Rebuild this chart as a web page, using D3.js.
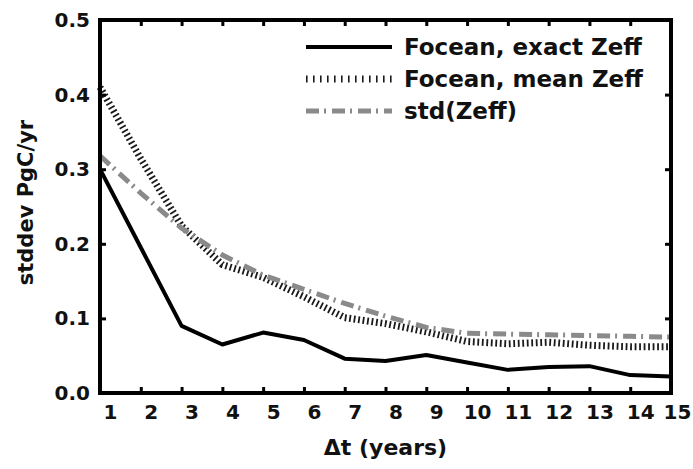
<!DOCTYPE html>
<html>
<head>
<meta charset="utf-8">
<script src="https://cdn.jsdelivr.net/npm/d3@7"></script>
<style>
  body { margin: 0; background: #fff; }
  svg { display: block; }
  text { font-family: "DejaVu Sans", sans-serif; font-weight: bold; fill: #111; }
</style>
</head>
<body>
<div id="viz"></div>
<script>
// data
const dt = [1, 2, 3, 4, 5, 6, 7, 8, 9, 10, 11, 12, 13, 14, 15]
const exactZeff = [0.300, 0.195, 0.090, 0.065, 0.081, 0.071, 0.046, 0.043, 0.051, 0.041, 0.031, 0.035, 0.036, 0.024, 0.022]
const meanZeff  = [0.410, 0.314, 0.224, 0.172, 0.155, 0.129, 0.101, 0.093, 0.082, 0.069, 0.066, 0.068, 0.064, 0.062, 0.062]
const stdZeff   = [0.318, 0.268, 0.221, 0.185, 0.158, 0.139, 0.120, 0.103, 0.088, 0.080, 0.079, 0.078, 0.077, 0.076, 0.075]
const yTicks = [0, 0.1, 0.2, 0.3, 0.4, 0.5]
const legendLabels = ["Focean, exact Zeff", "Focean, mean Zeff", "std(Zeff)"]

const width = 693, height = 469
const margin = { top: 20, right: 22, bottom: 76, left: 100 }

const svg = d3.select("#viz").append("svg")
    .attr("width", width)
    .attr("height", height)

const x = d3.scaleLinear().domain([1, 15]).range([margin.left, width - margin.right])
const y = d3.scaleLinear().domain([0, 0.5]).range([height - margin.bottom, margin.top])

// line styles per series
const series = [
  { values: exactZeff, stroke: "#000", width: 4, dash: null, legendDash: null },
  { values: meanZeff, stroke: "#1a1a1a", width: 7, dash: "1.8,2.7", legendDash: "1.6,5.4" },
  { values: stdZeff, stroke: "#8a8a8a", width: 5, dash: "13,5,2,6", legendDash: "13,5,2,6" }
]

const line = d3.line()
    .x((d, i) => x(dt[i]))
    .y(d => y(d))

series.forEach(s => {
  svg.append("path")
      .datum(s.values)
      .attr("fill", "none")
      .attr("stroke", s.stroke)
      .attr("stroke-width", s.width)
      .attr("stroke-dasharray", s.dash)
      .attr("stroke-linejoin", "round")
      .attr("d", line)
})

// axes, ticks pointing inward
const bottom = svg.append("g")
    .attr("transform", `translate(0,${y(0)})`)
    .call(d3.axisBottom(x).tickValues(dt).tickSizeInner(-6).tickSizeOuter(0).tickPadding(12))
bottom.selectAll("text")
    .attr("font-size", 20)
    .attr("dx", d => d == 15 ? 6 : 10)
    .attr("fill", "#111")

const left = svg.append("g")
    .attr("transform", `translate(${x(1)},0)`)
    .call(d3.axisLeft(y).tickValues(yTicks).tickFormat(d3.format(".1f")).tickSizeInner(-6).tickSizeOuter(0).tickPadding(10))
left.selectAll("text").attr("font-size", 20).attr("fill", "#111")

svg.append("g")
    .attr("transform", `translate(0,${y(0.5)})`)
    .call(d3.axisTop(x).tickValues(dt).tickSizeInner(-6).tickSizeOuter(0).tickFormat(""))

svg.append("g")
    .attr("transform", `translate(${x(15)},0)`)
    .call(d3.axisRight(y).tickValues(yTicks).tickSizeInner(-6).tickSizeOuter(0).tickFormat(""))

svg.selectAll(".domain").remove()
svg.selectAll(".tick line").attr("stroke", "#000").attr("stroke-width", 3)

svg.append("rect")
    .attr("x", x(1))
    .attr("y", y(0.5))
    .attr("width", x(15) - x(1))
    .attr("height", y(0) - y(0.5))
    .attr("fill", "none")
    .attr("stroke", "#000")
    .attr("stroke-width", 4)

// axis titles
svg.append("text")
    .attr("x", (x(1) + x(15)) / 2)
    .attr("y", 455)
    .attr("text-anchor", "middle")
    .attr("font-size", 22)
    .text("Δt (years)")

svg.append("text")
    .attr("transform", `translate(26,${(y(0) + y(0.5)) / 2 - 4}) rotate(-90)`)
    .attr("text-anchor", "middle")
    .attr("dominant-baseline", "central")
    .attr("font-size", 21)
    .text("stddev PgC/yr")

// legend
const legend = svg.append("g")
legendLabels.forEach((label, i) => {
  const ly = 47 + i * 32
  legend.append("line")
      .attr("x1", 306).attr("x2", 392)
      .attr("y1", ly).attr("y2", ly)
      .attr("stroke", series[i].stroke)
      .attr("stroke-width", i == 1 ? 7 : series[i].width)
      .attr("stroke-dasharray", series[i].legendDash)
  legend.append("text")
      .attr("x", 404)
      .attr("y", ly + 8)
      .attr("font-size", 23)
      .text(label)
})
</script>
</body>
</html>
